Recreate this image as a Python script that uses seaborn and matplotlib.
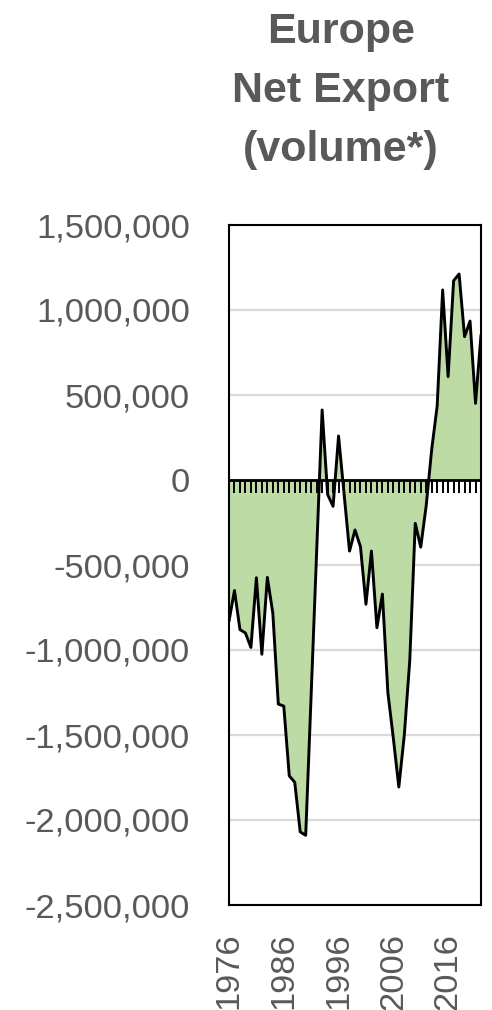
import matplotlib
matplotlib.use("Agg")
import matplotlib.pyplot as plt
import matplotlib.ticker as mticker
import seaborn as sns
import pandas as pd

# Annual net export volume for Europe
years = list(range(1976, 2023))
net_export = [
    -830000, -650000, -880000, -900000, -985000, -575000, -1025000, -573000,
    -784000, -1318000, -1330000, -1740000, -1778000, -2070000, -2090000,
    -1260000, -420000, 412000, -85000, -155000, 259000, -80000, -418000,
    -294000, -393000, -731000, -418000, -869000, -671000, -1250000, -1520000,
    -1806000, -1500000, -1060000, -255000, -395000, -150000, 180000, 435000,
    1118000, 608000, 1172000, 1212000, 843000, 935000, 451000, 853000,
]
label_years = [1976, 1986, 1996, 2006, 2016]
y_ticks = [1500000, 1000000, 500000, 0, -500000, -1000000, -1500000,
           -2000000, -2500000]

title_lines = ["Europe", "Net Export", "(volume*)"]

df = pd.DataFrame({"year": years, "net_export": net_export})

sns.set_style("white")
plt.rcParams["font.family"] = ["Liberation Sans", "DejaVu Sans"]

TEXT = "#595959"
FILL = "#bcdba5"
GRID = "#d9d9d9"

fig = plt.figure(figsize=(4.92, 10.10), dpi=100)
ax = fig.add_axes([229 / 492, 1 - 905 / 1010, 252 / 492, 680 / 1010])

ax.fill_between(df["year"], df["net_export"], 0, color=FILL, lw=0, zorder=1)
sns.lineplot(data=df, x="year", y="net_export", ax=ax, color="black",
             lw=2.1, zorder=4)

# zero line with a small downward tick at every year
ax.axhline(0, color="black", lw=2.0, zorder=3)
ax.plot(df["year"].iloc[1:-1], [0] * (len(df) - 2), linestyle="none",
        marker=3, markersize=9.2, mew=1.4, color="black", zorder=5)

ax.set_xlim(years[0], years[-1])
ax.set_ylim(-2500000, 1500000)
ax.set_yticks(y_ticks)
ax.yaxis.set_major_formatter(mticker.FuncFormatter(lambda v, p: f"{v:,.0f}"))
ax.set_xticks(label_years)
ax.set_xticklabels([str(y) for y in label_years], rotation=90)

ax.grid(axis="y", color=GRID, lw=1.6, zorder=0)
ax.set_axisbelow(True)
ax.set_xlabel("")
ax.set_ylabel("")
ax.tick_params(axis="both", length=0, labelsize=24.8, labelcolor=TEXT)
ax.tick_params(axis="y", pad=28)
ax.tick_params(axis="x", pad=20)

for s in ax.spines.values():
    s.set_visible(True)
    s.set_color("black")
    s.set_linewidth(1.5)

fig.text(341 / 492, 1 - 12 / 1010, "\n".join(title_lines), ha="center",
         va="top", fontsize=31, fontweight="bold", color=TEXT,
         linespacing=1.62)

fig.savefig("out.png", dpi=100)
